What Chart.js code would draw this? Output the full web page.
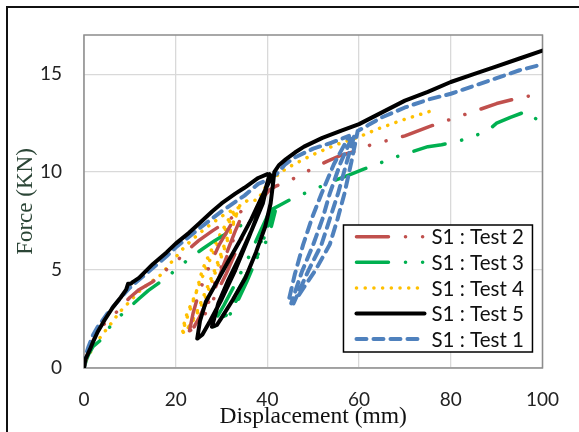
<!DOCTYPE html>
<html>
<head>
<meta charset="utf-8">
<script src="https://cdn.jsdelivr.net/npm/chart.js@4.4.0/dist/chart.umd.min.js"></script>
<style>
  html, body { margin: 0; padding: 0; background: #fff; }
  canvas { display: block; }
</style>
</head>
<body>
<canvas id="forceChart" width="579" height="432"></canvas>
<script>
// Axis ticks
const xTicks = [0, 20, 40, 60, 80, 100];
const yTicks = [0, 5, 10, 15];

// S1 : Test 2 (red, dash-dot-dot)
const test2X = [0, 0.5, 1, 2, 3.5, 5, 6.5, 8, 10, 12, 15, 18.6, 20, 22.5, 25, 28, 30, 33, 34.6,
  32, 29.5, 27, 25, 23.8, 23,
  24, 26, 28.5, 30.5, 32.5, 34.5,
  33, 31, 29, 27, 25.2, 24,
  25.5, 28, 31, 34, 37, 39, 40.5,
  42, 43.5, 46, 49.6, 53, 56, 59, 62.6, 66, 70, 75, 80, 85.7, 90, 95, 100];
const test2Y = [0, 0.5, 0.9, 1.4, 2.0, 2.4, 2.7, 3.1, 3.6, 4.0, 4.4, 5.15, 5.4, 6.0, 6.5, 7.0, 7.3, 7.8, 8.1,
  7.3, 6.3, 5.0, 3.8, 2.8, 1.9,
  2.0, 2.8, 4.0, 5.3, 6.5, 7.8,
  7.0, 5.8, 4.6, 3.5, 2.6, 2.1,
  2.4, 3.4, 4.8, 6.4, 7.9, 8.7, 9.1,
  9.3, 9.45, 9.7, 10.15, 10.55, 10.85, 11.05, 11.4, 11.6, 11.85, 12.3, 12.7, 13.15, 13.5, 13.8, 14.0];

// S1 : Test 3 (green, dash-dot-dot)
const test3X = [0, 0.5, 1, 2, 3.5, 5, 6.3, 9.2, 12.1, 14, 17.1, 20, 23, 26, 28.5, 32, 36, 40.5,
  38.5, 36, 33, 30.5, 28.8, 27.7,
  29.8, 31.6, 33.7, 36, 38.1, 40.3, 41.7,
  40, 38, 35.5, 33, 31.2, 30,
  31.5, 33.5, 35.5, 37.5, 39.5, 41,
  43, 45, 48, 51, 55, 58.3, 61, 64, 67, 71, 75, 78, 82, 85.7, 88, 90, 93, 96.5, 98.7, 100];
const test3Y = [0, 0.4, 0.7, 1.1, 1.4, 1.9, 2.3, 2.95, 3.56, 3.95, 4.47, 5.0, 5.6, 6.1, 6.5, 7.0, 7.5, 8.0,
  7.0, 5.7, 4.3, 3.2, 2.5, 2.05,
  2.27, 2.9, 3.6, 4.7, 5.8, 6.7, 8.0,
  7.2, 6.1, 4.8, 3.7, 2.9, 2.4,
  2.6, 3.4, 4.4, 5.5, 6.8, 8.1,
  8.35, 8.6, 8.9, 9.2, 9.6, 9.9, 10.15, 10.4, 10.7, 11.0, 11.3, 11.4, 11.6, 11.9, 12.1, 12.5, 12.8, 13.1, 12.7, 12.8];

// S1 : Test 4 (orange, dotted)
const test4X = [0, 0.5, 1.3, 2, 4, 6, 7.8, 10, 12, 14, 16.5, 18, 20, 22, 25, 28, 31, 33.8,
  32.3, 29.4, 27.5, 25.8, 24.4, 22.5, 21.4,
  22, 24, 26.5, 28.5, 30.5, 32.5, 33.8,
  32, 29.5, 27, 25, 23.5, 22.2, 21.5,
  22.5, 24.5, 26.5, 28.5, 30.5, 32.5, 34,
  36, 37.8, 40, 42, 43.9, 45.8, 50, 55, 60, 64, 70, 75.4];
const test4Y = [0, 0.45, 0.75, 1.1, 1.7, 2.3, 2.86, 3.4, 3.9, 4.3, 4.7, 5.1, 5.66, 6.2, 6.85, 7.4, 7.9, 8.2,
  7.9, 6.7, 5.9, 5.0, 3.8, 2.8, 1.9,
  1.8, 2.5, 3.6, 4.8, 6.0, 7.3, 8.2,
  7.6, 6.5, 5.3, 4.2, 3.2, 2.4, 1.8,
  1.95, 2.8, 3.9, 5.0, 6.2, 7.4, 8.3,
  8.6, 8.55, 9.4, 9.8, 10.15, 10.4, 10.9, 11.4, 11.8, 12.2, 12.7, 13.1];

// S1 : Test 5 (black, solid)
const test5X = [0, 0.3, 0.8, 1.3, 2, 3, 4.5, 6.3, 8, 9.2, 9.6, 10.2, 10.7, 12, 15, 18, 20, 22.9, 25, 28, 30, 33, 35, 38, 40, 41,
  38.5, 36.5, 34, 31.6, 29, 26.6, 25.3, 24.7,
  25.8, 27.5, 30, 33, 36, 38.5, 40.5,
  39, 36.5, 34, 31.5, 29.3, 27.9,
  29, 30.1, 32.5, 35.2, 37.5, 39.5, 40.7, 41.3, 41.5,
  42.5, 44, 46, 48, 52, 56, 60, 65, 70, 75, 80, 85, 90, 95, 100];
const test5Y = [0, 0.45, 0.7, 0.95, 1.35, 1.85, 2.45, 3.1, 3.6, 4.0, 4.3, 4.3, 4.4, 4.6, 5.3, 5.9, 6.35, 6.9, 7.35, 8.0, 8.4, 8.9, 9.2, 9.7, 9.9, 9.8,
  8.6, 7.6, 6.5, 5.5, 4.4, 3.4, 2.4, 1.5,
  1.7, 2.4, 3.5, 5.0, 6.7, 8.2, 9.9,
  8.4, 7.0, 5.7, 4.5, 3.3, 2.1,
  2.2, 2.6, 3.5, 4.6, 5.9, 7.2, 8.4, 9.55, 10.0,
  10.35, 10.65, 11.0, 11.3, 11.75, 12.1, 12.45, 13.05, 13.65, 14.1, 14.6, 15.0, 15.4, 15.8, 16.2];

// S1 : Test 1 (blue, dashed)
const test1X = [0, 0.3, 1, 2, 3, 5, 7, 9, 10, 12, 15, 18, 20, 25, 30, 35, 38, 40, 42, 43.9, 46, 50, 54, 57.8,
  57.5, 54.5, 51.8, 49.8, 47.8, 46, 44.6,
  45.7, 49, 51.8, 53.6, 55.4, 57.3, 59,
  58.5, 56, 53.6, 52, 50, 47.5, 45.2,
  46.5, 50.5, 53.6, 55.3, 56.8, 58.3, 59.7,
  62, 65, 70, 75, 80, 85, 90, 95, 100];
const test1Y = [0, 0.6, 1.1, 1.7, 2.1, 2.75, 3.3, 3.85, 4.1, 4.5, 5.1, 5.7, 6.15, 7.1, 8.0, 8.8, 9.4, 9.6, 9.9, 10.4, 10.75, 11.2, 11.5, 11.85,
  11.7, 10.4, 8.9, 7.7, 6.3, 4.8, 3.4,
  3.3, 5.0, 6.3, 7.6, 8.9, 10.5, 11.9,
  11.8, 10.5, 8.9, 7.6, 6.3, 4.9, 3.3,
  3.6, 5.0, 6.3, 7.6, 8.9, 10.5, 12.1,
  12.4, 12.8, 13.3, 13.7, 14.0, 14.4, 14.8, 15.2, 15.5];

function toPoints(xs, ys) {
  return xs.map((x, i) => ({ x: x, y: ys[i] }));
}

// frame round the whole picture (left and top edges only)
const frame = {
  id: "frame",
  beforeDraw(chart) {
    const ctx = chart.ctx;
    ctx.save();
    ctx.fillStyle = "#fff";
    ctx.fillRect(0, 0, chart.width, chart.height);
    ctx.fillStyle = "#111";
    ctx.fillRect(6, 6, 2, chart.height - 6);
    ctx.fillRect(6, 6, chart.width - 6, 2);
    ctx.restore();
  },
  beforeDatasetsDraw(chart) {
    const { ctx, chartArea } = chart;
    ctx.save();
    ctx.strokeStyle = "#8c8c8c";
    ctx.lineWidth = 1.5;
    ctx.strokeRect(chartArea.left, chartArea.top, chartArea.right - chartArea.left, chartArea.bottom - chartArea.top);
    ctx.restore();
  },
};

// legend box drawn inside the plot, lower right
const insideLegend = {
  id: "insideLegend",
  afterDraw(chart) {
    const { ctx, chartArea } = chart;
    const boxW = 189, boxH = 127;
    const x0 = chartArea.right - 10 - boxW;
    const y0 = chartArea.bottom - 16 - boxH;
    ctx.save();
    ctx.fillStyle = "#fff";
    ctx.fillRect(x0, y0, boxW, boxH);
    ctx.strokeStyle = "#000";
    ctx.lineWidth = 1.5;
    ctx.strokeRect(x0, y0, boxW, boxH);
    chart.data.datasets.forEach((ds, i) => {
      const cy = y0 + 11.7 + i * 25.6;
      ctx.beginPath();
      ctx.setLineDash(ds.borderDash || []);
      ctx.lineCap = ds.borderCapStyle || "butt";
      ctx.lineWidth = ds.borderWidth;
      ctx.strokeStyle = ds.borderColor;
      ctx.moveTo(x0 + 13, cy);
      ctx.lineTo(x0 + 81, cy);
      ctx.stroke();
      ctx.setLineDash([]);
      ctx.fillStyle = "#111";
      ctx.font = "20.5px Lato";
      ctx.textBaseline = "middle";
      ctx.fillText(ds.label, x0 + 88, cy + 1);
    });
    ctx.restore();
  },
};

const ctx = document.getElementById("forceChart").getContext("2d");

const myChart = new Chart(ctx, {
  type: "scatter",
  data: {
    datasets: [
      {
        label: "S1 : Test 2",
        data: toPoints(test2X, test2Y),
        borderColor: "#C0504D",
        borderWidth: 3.5,
        borderDash: [32, 17, 0.1, 17, 0.1, 17],
        borderCapStyle: "round",
        order: 2,
      },
      {
        label: "S1 : Test 3",
        data: toPoints(test3X, test3Y),
        borderColor: "#00B050",
        borderWidth: 3.5,
        borderDash: [32, 17, 0.1, 17, 0.1, 17],
        borderCapStyle: "round",
        order: 3,
      },
      {
        label: "S1 : Test 4",
        data: toPoints(test4X, test4Y),
        borderColor: "#FFC000",
        borderWidth: 3.5,
        borderDash: [0.1, 8.6],
        borderCapStyle: "round",
        order: 4,
      },
      {
        label: "S1 : Test 5",
        data: toPoints(test5X, test5Y),
        borderColor: "#000000",
        borderWidth: 4,
        borderCapStyle: "round",
        order: 0,
      },
      {
        label: "S1 : Test 1",
        data: toPoints(test1X, test1Y),
        borderColor: "#4F81BD",
        borderWidth: 4,
        borderDash: [10, 7],
        borderCapStyle: "round",
        order: 1,
      },
    ],
  },
  options: {
    responsive: false,
    animation: false,
    showLine: true,
    elements: {
      point: { radius: 0, hoverRadius: 0 },
      line: { tension: 0, borderJoinStyle: "round" },
    },
    layout: { padding: { top: 35, right: 33, left: 0, bottom: 0 } },
    plugins: {
      legend: { display: false },
      tooltip: { enabled: false },
    },
    scales: {
      x: {
        type: "linear",
        min: 0,
        max: 100,
        afterBuildTicks: (s) => { s.ticks = xTicks.map((v) => ({ value: v })); },
        afterFit: (s) => { s.height = 64; },
        grid: { color: "#d9d9d9", lineWidth: 1.3, drawTicks: false },
        border: { display: false },
        ticks: { padding: 20, color: "#222", font: { family: "Lato", size: 19 } },
        title: {
          display: true,
          text: "Displacement (mm)",
          color: "#111",
          font: { family: "Liberation Serif", size: 23.5 },
          padding: { top: 0, bottom: 1 },
        },
      },
      y: {
        type: "linear",
        min: 0,
        max: 17,
        afterBuildTicks: (s) => { s.ticks = yTicks.map((v) => ({ value: v })); },
        afterFit: (s) => { s.width = 84; },
        grid: { color: "#d9d9d9", lineWidth: 1.3, drawTicks: false },
        border: { display: false },
        ticks: { padding: 22, color: "#222", font: { family: "Lato", size: 19 } },
        title: {
          display: true,
          text: "Force (KN)",
          color: "#2b4536",
          font: { family: "Liberation Serif", size: 23 },
          padding: { top: 12, bottom: 0 },
        },
      },
    },
  },
  plugins: [frame, insideLegend],
});
</script>
</body>
</html>
